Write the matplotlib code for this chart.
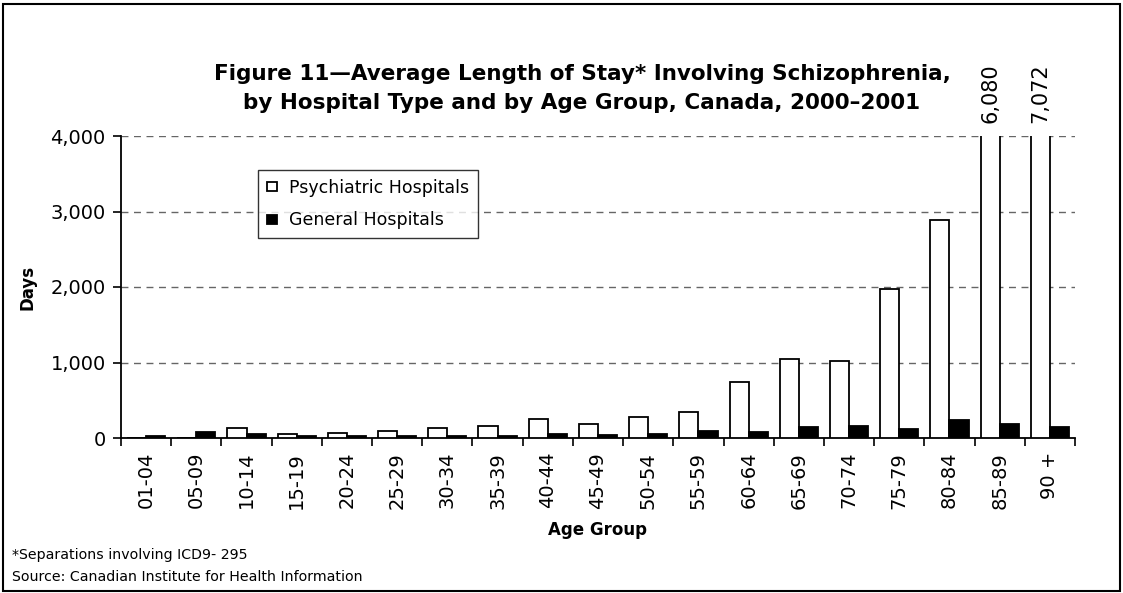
import matplotlib
matplotlib.use('Agg')
import matplotlib.pyplot as plt
import numpy as np
from matplotlib.patches import Rectangle

plt.rcParams['font.family'] = ['DejaVu Sans']

age_groups = ['01-04', '05-09', '10-14', '15-19', '20-24', '25-29', '30-34', '35-39',
              '40-44', '45-49', '50-54', '55-59', '60-64', '65-69', '70-74', '75-79',
              '80-84', '85-89', '90 +']
psychiatric = [0, 0, 135, 50, 70, 93, 136, 160, 250, 180, 280, 350, 745, 1040, 1020,
               1975, 2890, 6080, 7072]
general = [25, 75, 50, 30, 25, 25, 25, 25, 50, 40, 50, 95, 75, 145, 165, 120, 240, 190, 140]

fig = plt.figure(figsize=(11.23, 5.93), dpi=100)
ax = fig.add_axes([121/1123, 155/593, 954/1123, 302/593])

x = np.arange(len(age_groups))
w = 0.38
ax.bar(x - w/2, psychiatric, w, color='white', edgecolor='black', linewidth=1.3,
       label='Psychiatric Hospitals', zorder=3)
ax.bar(x + w/2, general, w, color='black', edgecolor='black', linewidth=1.3,
       label='General Hospitals', zorder=3)

ax.set_ylim(0, 4000)
ax.set_xlim(-0.5, len(age_groups) - 0.5)
ax.set_yticks([0, 1000, 2000, 3000, 4000])
ax.set_yticklabels(['0', '1,000', '2,000', '3,000', '4,000'], fontsize=14)
ax.yaxis.grid(True, linestyle=(0, (5, 4)), color='#666666', linewidth=1)
ax.set_axisbelow(True)

ax.set_xticks(np.arange(len(age_groups) + 1) - 0.5, minor=False)
ax.set_xticklabels([])
ax.set_xticks(x, minor=True)
ax.set_xticklabels(age_groups, minor=True, rotation=90, fontsize=14)
ax.tick_params(axis='x', which='minor', length=0, pad=10)
ax.tick_params(axis='x', which='major', length=6, direction='out', width=1.2)
ax.tick_params(axis='y', length=6, direction='out', width=1.2, pad=5)

for s in ['top', 'right']:
    ax.spines[s].set_visible(False)
for s in ['left', 'bottom']:
    ax.spines[s].set_linewidth(1.3)

for i, v in enumerate(psychiatric):
    if v > 4000:
        ax.text(x[i] - w/2, 4170, f'{v:,}', rotation=90, ha='center', va='bottom',
                fontsize=15, clip_on=False)

ax.set_ylabel('Days', fontsize=12, fontweight='bold')
ax.yaxis.set_label_coords((37 - 121) / 954, 0.5)
ax.set_xlabel('Age Group', fontsize=12, fontweight='bold')
ax.xaxis.set_label_coords(0.5, (438 - 521) / 302)

leg = ax.legend(loc='upper left', bbox_to_anchor=(137/954, 268/302), fontsize=12.5,
                frameon=True, fancybox=False, edgecolor='black', handlelength=0.6,
                handleheight=0.45, borderpad=0.5, labelspacing=0.85, handletextpad=0.7,
                borderaxespad=0)
leg.get_frame().set_linewidth(1.0)

fig.text(582/1123, 1 - 74/593, 'Figure 11\u2014Average Length of Stay* Involving Schizophrenia,',
         ha='center', va='center', fontsize=15.5, fontweight='bold')
fig.text(582/1123, 1 - 103/593, 'by Hospital Type and by Age Group, Canada, 2000\u20132001',
         ha='center', va='center', fontsize=15.5, fontweight='bold')

fig.text(12/1123, 1 - 555/593, '*Separations involving ICD9- 295', fontsize=10.2, va='center')
fig.text(12/1123, 1 - 577/593, 'Source: Canadian Institute for Health Information', fontsize=10.2,
         va='center')

fig.patches.append(Rectangle((0.003, 0.004), 0.994, 0.99, transform=fig.transFigure,
                             fill=False, edgecolor='black', linewidth=1.5))

fig.savefig('out.png', dpi=100)
